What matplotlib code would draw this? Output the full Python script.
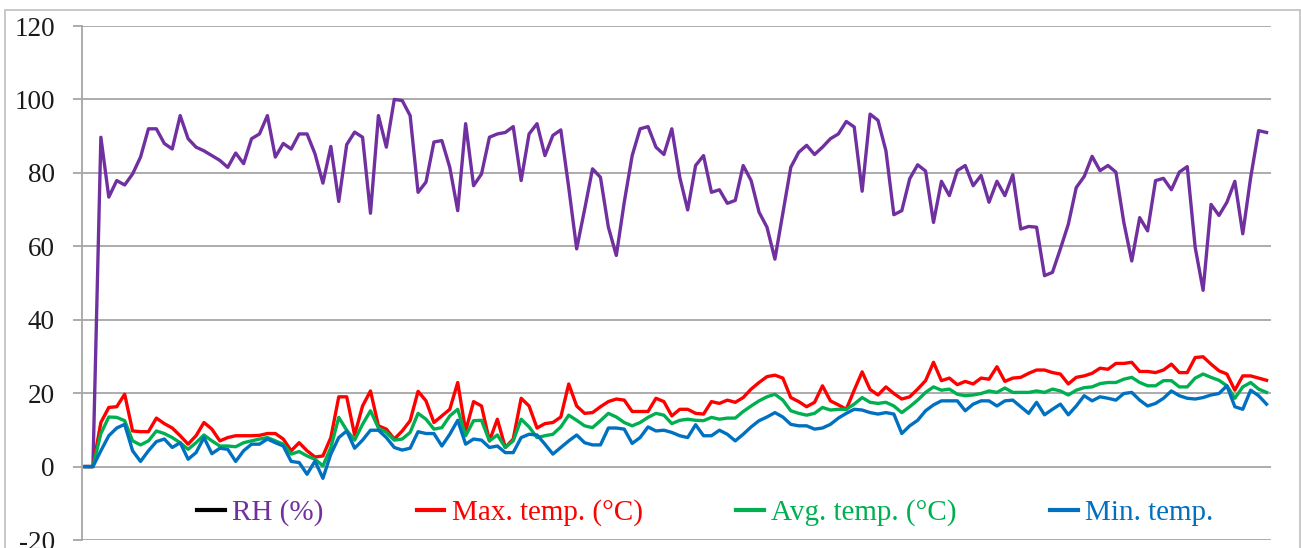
import matplotlib
matplotlib.use("Agg")
import matplotlib.pyplot as plt
from matplotlib.lines import Line2D
from matplotlib.patches import Rectangle
import numpy as np

# daily readings
rh = [
    0, 0, 89.7, 73.4, 77.9, 76.7, 79.7, 84.3, 92, 92,
    88, 86.5, 95.6, 89.3, 87, 86, 84.7, 83.4, 81.5, 85.4,
    82.5, 89.3, 90.6, 95.6, 84.3, 88, 86.5, 90.6, 90.6, 85.2,
    77.2, 87.2, 72.2, 87.7, 91.1, 89.7, 69, 95.6, 87, 100,
    99.7, 95.6, 74.7, 77.5, 88.4, 88.8, 81.5, 69.7, 93.4, 76.5,
    79.7, 89.7, 90.6, 91, 92.6, 77.9, 90.6, 93.4, 84.7, 90.2,
    91.7, 76, 59.3, 70, 81.1, 78.8, 65.2, 57.5, 72, 84.7,
    92, 92.6, 87, 85, 92, 78.8, 69.9, 82, 84.7, 74.7,
    75.4, 71.7, 72.5, 82, 77.9, 69.3, 65.2, 56.5, 69, 81.5,
    85.6, 87.5, 85, 87, 89.3, 90.6, 94, 92.5, 75, 96,
    94.3, 86, 68.6, 69.7, 78.4, 82.2, 80.5, 66.5, 77.7, 73.8,
    80.6, 82, 76.5, 79.3, 72, 77.7, 73.8, 79.5, 64.7, 65.4,
    65.2, 52, 52.9, 59.3, 66, 76, 79, 84.5, 80.6, 82,
    80.2, 66.5, 56, 67.8, 64.2, 77.9, 78.5, 75.4, 80.2, 81.7,
    59.7, 48, 71.4, 68.4, 72, 77.7, 63.4, 78.8, 91.5, 91,
]

t_max = [
    0, 0, 12, 16.1, 16.3, 19.7, 9.7, 9.5, 9.5, 13.2,
    11.7, 10.5, 8.4, 6.1, 8.4, 12, 10.2, 7, 7.9, 8.4,
    8.4, 8.4, 8.5, 9, 9, 7.5, 4.3, 6.5, 4.3, 2.6,
    2.9, 7.9, 19, 19, 8.6, 16.5, 20.6, 11.1, 10.2, 7.5,
    9.7, 12.5, 20.5, 17.9, 12, 13.8, 15.6, 22.9, 9.7, 17.7,
    16.5, 7, 12.9, 5.2, 7.5, 18.6, 16.5, 10.5, 11.7, 12,
    13.5, 22.5, 16.5, 14.5, 14.7, 16.3, 17.7, 18.4, 18.1, 15,
    15, 15, 18.6, 17.7, 13.8, 15.6, 15.6, 14.5, 14.3, 17.7,
    17.2, 18.1, 17.5, 18.8, 21.1, 22.9, 24.5, 24.9, 24.1, 18.8,
    17.7, 16.3, 17.5, 22, 17.9, 16.8, 15.6, 20.8, 25.8, 21,
    19.5, 21.7, 19.9, 18.4, 19, 21.1, 23.4, 28.4, 23.4, 24.1,
    22.3, 23.2, 22.5, 24.1, 23.8, 27.2, 23.2, 24.1, 24.3, 25.4,
    26.3, 26.3, 25.6, 25.2, 22.5, 24.3, 24.7, 25.4, 26.8, 26.5,
    28.1, 28.1, 28.4, 25.9, 25.9, 25.6, 26.3, 27.9, 25.6, 25.6,
    29.7, 29.9, 27.9, 26.1, 25.2, 20.8, 24.7, 24.7, 24.1, 23.5,
]

t_avg = [
    0, 0, 9, 13.5, 13.4, 12.5, 7, 5.9, 7, 9.7,
    9, 7.9, 6.5, 4.7, 6.5, 8.6, 7, 5.6, 5.6, 5.4,
    6.5, 7, 7.5, 7.9, 7, 6.1, 3.4, 4.1, 2.9, 2,
    0.2, 5.2, 13.4, 9.9, 7.2, 11.5, 15.2, 10.5, 9.3, 7.2,
    7.5, 9.3, 14.5, 12.9, 10.2, 10.6, 13.8, 15.6, 8.4, 12.5,
    12.6, 7, 8.6, 5.2, 7, 12.9, 10.8, 7.9, 8.4, 8.8,
    10.8, 14, 12.6, 11.1, 10.6, 12.5, 14.5, 13.5, 12, 11.1,
    12, 13.4, 14.5, 14, 11.7, 12.6, 12.9, 12.6, 12.5, 13.4,
    12.9, 13.2, 13.2, 15, 16.5, 17.9, 19, 19.7, 18.1, 15.2,
    14.5, 14, 14.5, 16.1, 15.4, 15.6, 15.6, 17, 18.8, 17.5,
    17.2, 17.5, 16.5, 14.7, 16.3, 18.1, 20.2, 21.7, 20.8, 21.1,
    19.7, 19.3, 19.5, 19.9, 20.6, 20.2, 21.4, 20.2, 20.2, 20.2,
    20.6, 20.2, 21.1, 20.6, 19.5, 20.8, 21.5, 21.7, 22.6, 22.9,
    22.9, 23.8, 24.3, 22.9, 22, 22, 23.4, 23.4, 21.7, 21.7,
    24.1, 25.2, 24.3, 23.5, 22, 18.6, 21.7, 22.9, 21.1, 20.2,
]

t_min = [
    0, 0, 4.3, 8.4, 10.5, 11.5, 4.3, 1.4, 4.3, 6.8,
    7.5, 5.2, 6.5, 2, 3.8, 7.9, 3.5, 5, 4.7, 1.4,
    4.3, 6.1, 6.1, 7.5, 6.5, 5.6, 1.4, 1.1, -2.1, 1.5,
    -3.2, 3.4, 7.9, 9.7, 5, 7.2, 9.9, 9.9, 7.9, 5.2,
    4.5, 5, 9.5, 9, 9, 5.6, 8.8, 12.6, 6.1, 7.5,
    7.2, 5.2, 5.6, 3.8, 3.8, 7.9, 8.8, 8.6, 6.1, 3.4,
    5.2, 7, 8.6, 6.5, 5.9, 5.9, 10.5, 10.5, 10.2, 6.3,
    7.9, 10.8, 9.7, 9.9, 9.3, 8.4, 7.9, 11.4, 8.4, 8.4,
    9.9, 8.8, 7, 8.8, 10.8, 12.5, 13.5, 14.7, 13.5, 11.5,
    11.1, 11.1, 10.2, 10.5, 11.5, 13.2, 14.5, 15.6, 15.4, 14.7,
    14.3, 14.7, 14.3, 9, 11.1, 12.6, 15.2, 16.8, 17.9, 17.9,
    17.9, 15.2, 17, 17.9, 17.9, 16.5, 17.9, 18.1, 16.3, 14.5,
    17.5, 14.1, 15.6, 17, 14.1, 16.5, 19.3, 17.9, 19, 18.6,
    18.1, 19.9, 20.2, 18.1, 16.5, 17.2, 18.6, 20.6, 19.3, 18.6,
    18.4, 18.8, 19.5, 19.9, 22, 16.3, 15.6, 20.8, 19.3, 17,
]

labels = ["RH (%)", "Max. temp. (°C)", "Avg. temp. (°C)", "Min. temp."]
y_ticks = [-20, 0, 20, 40, 60, 80, 100, 120]

PURPLE = "#7030A0"
RED = "#FF0000"
GREEN = "#00B050"
BLUE = "#0070C0"
GRID = "#A6A6A6"


def main() -> None:
    plt.rcParams["font.family"] = ["Liberation Serif", "DejaVu Serif"]
    plt.rcParams["axes.unicode_minus"] = False

    fig = plt.figure(figsize=(13.01, 5.48), dpi=100)
    ax = fig.add_axes([82 / 1301, 1 - 540 / 548, (1271 - 82) / 1301, 514 / 548])

    # outer chart border
    fig.patches.append(
        Rectangle((5 / 1301, -0.05), 1295 / 1301, 1.05 - 10 / 548,
                  transform=fig.transFigure, fill=False,
                  edgecolor="#BFBFBF", lw=1.2)
    )

    x = np.arange(len(rh))
    lw = 2.4
    ax.plot(x, rh, color=PURPLE, lw=lw, solid_joinstyle="round")
    ax.plot(x, t_max, color=RED, lw=lw, solid_joinstyle="round")
    ax.plot(x, t_avg, color=GREEN, lw=lw, solid_joinstyle="round")
    ax.plot(x, t_min, color=BLUE, lw=lw, solid_joinstyle="round")

    ax.set_xlim(-0.38, 149.56)
    ax.set_ylim(-20, 120)
    ax.set_yticks(y_ticks)
    ax.set_xticks([])
    ax.grid(axis="y", color=GRID, lw=1.3)
    ax.set_axisbelow(True)
    for side in ["top", "right", "bottom"]:
        ax.spines[side].set_visible(False)
    ax.spines["left"].set_color(GRID)
    ax.spines["left"].set_linewidth(1.3)
    ax.tick_params(axis="y", direction="out", length=6.5, width=1.3,
                   color=GRID, pad=13, labelsize=19.5, labelcolor="#1a1a1a")

    handles = [
        Line2D([], [], color="black", lw=3),
        Line2D([], [], color=RED, lw=3),
        Line2D([], [], color=GREEN, lw=3),
        Line2D([], [], color=BLUE, lw=3),
    ]
    ax.legend(handles, labels, loc="center", bbox_to_anchor=(0.524, 0.0525),
              ncol=4, frameon=False, prop={"size": 21},
              handlelength=0.95, handletextpad=0.25, columnspacing=3.2,
              labelcolor=[PURPLE, RED, GREEN, BLUE])

    fig.savefig("out.png", dpi=100)
    plt.close(fig)


if __name__ == "__main__":
    main()
